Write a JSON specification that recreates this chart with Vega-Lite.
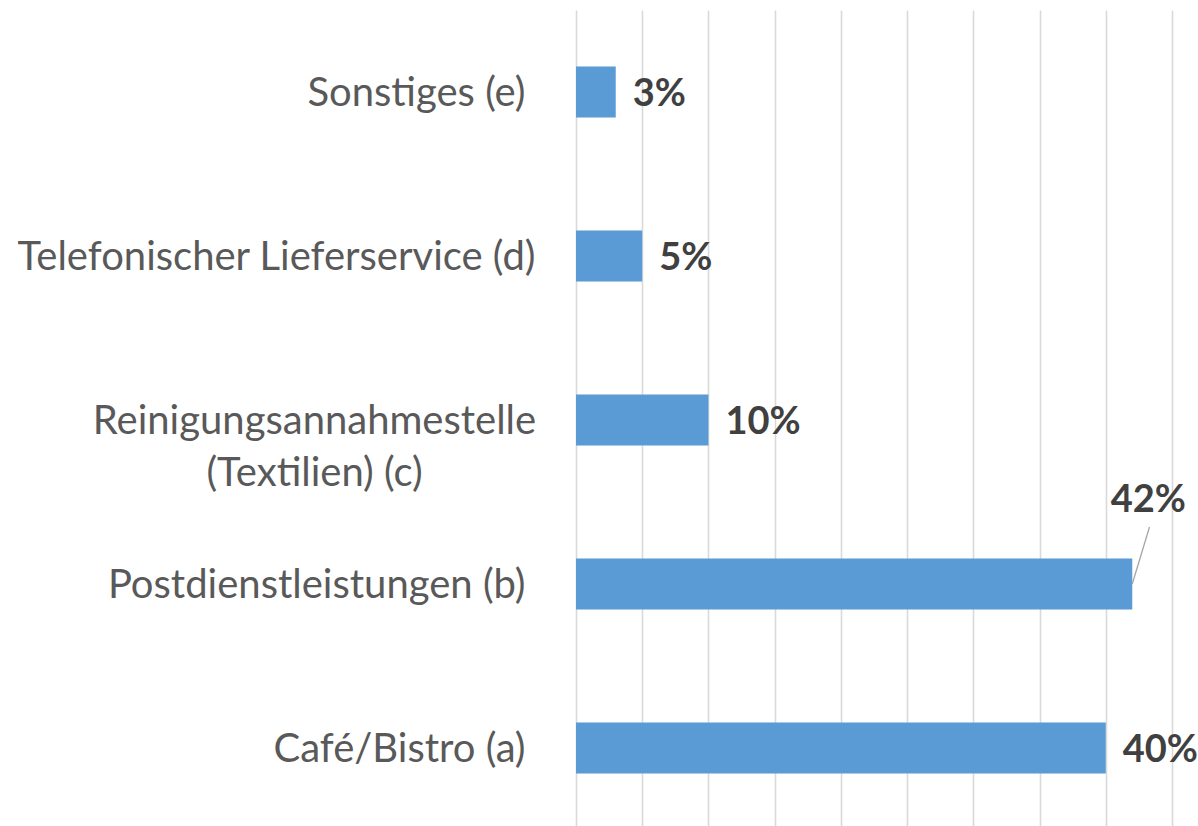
{
  "$schema": "https://vega.github.io/schema/vega-lite/v6.json",
  "width": 596,
  "height": 820,
  "autosize": {"type": "none"},
  "padding": {"left": 576, "top": 10, "right": 26, "bottom": 0},
  "background": "white",
  "config": {"view": {"stroke": null}, "font": "Lato"},
  "data": {
    "values": [
      {"cat": "Sonstiges (e)", "value": 3, "label": "3%"},
      {"cat": "Telefonischer Lieferservice (d)", "value": 5, "label": "5%"},
      {"cat": "Reinigungsannahmestelle (Textilien) (c)", "value": 10, "label": "10%"},
      {"cat": "Postdienstleistungen (b)", "value": 42, "label": "42%"},
      {"cat": "Café/Bistro (a)", "value": 40, "label": "40%"}
    ]
  },
  "encoding": {
    "y": {
      "field": "cat",
      "type": "nominal",
      "sort": null,
      "scale": {"paddingInner": 0.69, "paddingOuter": 0.345},
      "axis": {
        "title": null,
        "domain": false,
        "ticks": false,
        "labelFont": "Lato",
        "labelFontSize": 40,
        "labelColor": "#595959",
        "labelLimit": 0,
        "labelLineHeight": 52,
        "labelOffset": 2,
        "labelExpr": "datum.value == 'Reinigungsannahmestelle (Textilien) (c)' ? ['Reinigungsannahmestelle', '(Textilien) (c)'] : datum.value",
        "labelAlign": {"condition": {"test": "datum.value == 'Reinigungsannahmestelle (Textilien) (c)'", "value": "center"}, "value": "right"},
        "labelPadding": {"condition": [{"test": "datum.value == 'Reinigungsannahmestelle (Textilien) (c)'", "value": 262}, {"test": "datum.value == 'Telefonischer Lieferservice (d)'", "value": 41}], "value": 51}
      }
    }
  },
  "layer": [
    {
      "mark": {"type": "bar", "color": "#5b9bd5"},
      "encoding": {
        "x": {
          "field": "value",
          "type": "quantitative",
          "scale": {"domain": [0, 45], "nice": false},
          "axis": {
            "title": null,
            "values": [0, 5, 10, 15, 20, 25, 30, 35, 40, 45],
            "labels": false,
            "domain": false,
            "ticks": false,
            "grid": true,
            "gridColor": "#d9d9d9",
            "gridWidth": 1.6
          }
        }
      }
    },
    {
      "transform": [{"filter": "datum.value != 42"}],
      "mark": {"type": "text", "align": "left", "baseline": "middle", "dx": 17, "dy": 3, "fontSize": 38, "fontWeight": "bold", "color": "#404040", "font": "Lato"},
      "encoding": {
        "x": {"field": "value", "type": "quantitative"},
        "text": {"field": "label"}
      }
    },
    {
      "transform": [{"filter": "datum.value == 42"}],
      "mark": {"type": "text", "align": "center", "baseline": "alphabetic", "dx": 16, "dy": -72, "fontSize": 38, "fontWeight": "bold", "color": "#404040", "font": "Lato"},
      "encoding": {
        "x": {"field": "value", "type": "quantitative"},
        "text": {"field": "label"}
      }
    },
    {
      "transform": [{"filter": "datum.value == 42"}],
      "mark": {"type": "rule", "color": "#a6a6a6", "strokeWidth": 1.3, "y2Offset": -57},
      "encoding": {
        "x": {"field": "value", "type": "quantitative"},
        "x2": {"datum": 43.3},
        "y2": {"field": "cat"}
      }
    }
  ]
}
